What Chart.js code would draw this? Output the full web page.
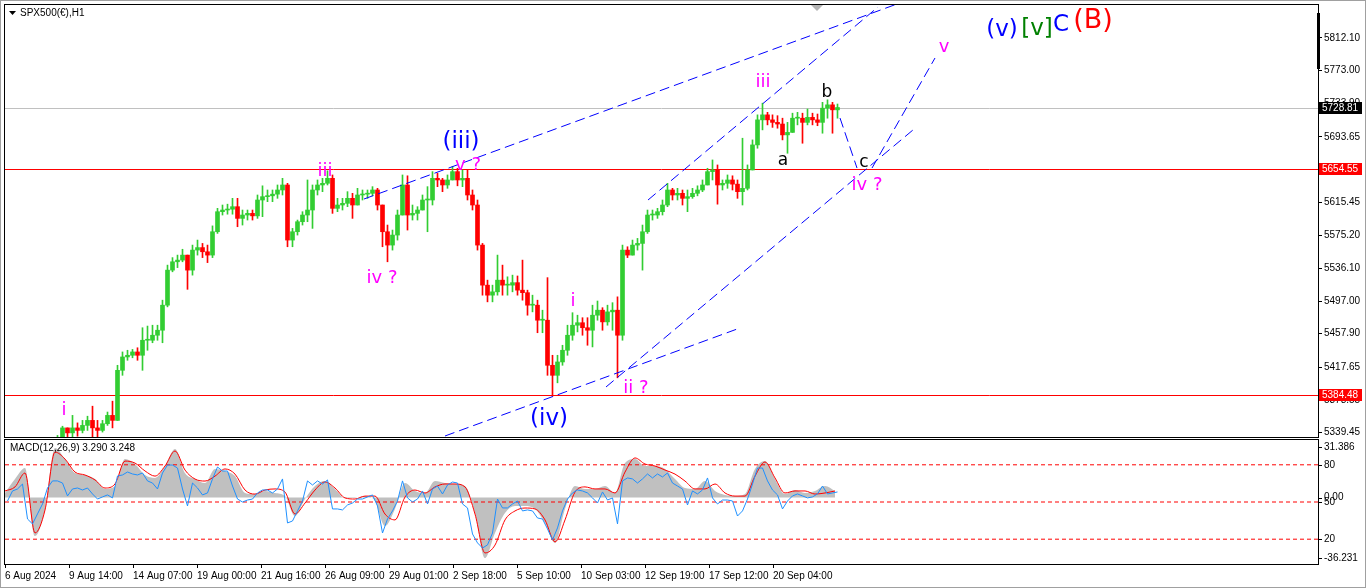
<!DOCTYPE html>
<html>
<head>
<meta charset="utf-8">
<title>SPX500 H1</title>
<script src="https://cdn.jsdelivr.net/npm/chart.js@4.4.1/dist/chart.umd.min.js"></script>
<style>
  html, body { margin: 0; padding: 0; background: #fff; }
  #wrap { position: relative; width: 1366px; height: 588px; overflow: hidden; }
  #wrap canvas { position: absolute; left: 0; }
  #price { top: 0; }
  #macd { top: 438px; }
  #frame { position: absolute; left: 0; top: 0; width: 1366px; height: 588px; box-sizing: border-box; border: 1px solid #a0a0a0; pointer-events: none; }
</style>
</head>
<body>
<div id="wrap">
  <canvas id="price" width="1366" height="438"></canvas>
  <canvas id="macd" width="1366" height="150"></canvas>
  <div id="frame"></div>
</div>
<script>
// one candle here = 5 hourly bars of the original
const barsPerCandle = 5;

// closes / highs / lows (null = below the visible range)
const candleClose = [
  null, null, null, null, null, null, null, null, null, null,
  5330, 5345, 5339, 5345, 5342, 5348, 5354, 5345, 5342, 5350,
  5360, 5354, 5414, 5430, 5432, 5436, 5432, 5450, 5450, 5456,
  5462, 5492, 5534, 5544, 5546, 5552, 5534, 5558, 5561, 5556,
  5552, 5580, 5604, 5606, 5607, 5610, 5596, 5600, 5602, 5599,
  5618, 5622, 5623, 5625, 5630, 5636, 5570, 5580, 5592, 5600,
  5606, 5630, 5636, 5638, 5644, 5608, 5612, 5614, 5620, 5612,
  5624, 5625, 5626, 5630, 5612, 5580, 5564, 5576, 5600, 5636,
  5600, 5602, 5606, 5618, 5618, 5644, 5642, 5636, 5642, 5652,
  5642, 5644, 5624, 5612, 5564, 5516, 5504, 5508, 5522, 5516,
  5516, 5519, 5510, 5507, 5492, 5492, 5474, 5474, 5420, 5408,
  5424, 5438, 5456, 5468, 5471, 5465, 5462, 5480, 5486, 5472,
  5484, 5486, 5456, 5558, 5552, 5564, 5566, 5580, 5600, 5600,
  5604, 5612, 5630, 5624, 5626, 5620, 5622, 5626, 5630, 5636,
  5652, 5654, 5636, 5638, 5642, 5637, 5628, 5632, 5654, 5684,
  5714, 5720, 5714, 5711, 5709, 5696, 5699, 5716, 5716, 5711,
  5717, 5714, 5711, 5728, 5732, 5726, 5728.81
];
const candleHigh = [
  null, null, null, null, null, null, null, null, null, null,
  5336, 5347, 5344, 5360, 5351, 5354, 5359, 5371, 5354, 5354,
  5364, 5377, 5420, 5436, 5438, 5439, 5441, 5465, 5467, 5468,
  5468, 5498, 5540, 5549, 5552, 5559, 5552, 5564, 5570, 5566,
  5564, 5587, 5608, 5612, 5613, 5620, 5620, 5606, 5606, 5606,
  5624, 5635, 5630, 5630, 5636, 5644, 5638, 5584, 5594, 5604,
  5642, 5636, 5642, 5644, 5653, 5648, 5620, 5620, 5628, 5626,
  5632, 5630, 5630, 5634, 5632, 5612, 5588, 5582, 5606, 5648,
  5647, 5612, 5610, 5624, 5634, 5652, 5650, 5644, 5648, 5658,
  5656, 5654, 5654, 5630, 5618, 5566, 5522, 5516, 5552, 5540,
  5526, 5528, 5527, 5546, 5510, 5504, 5498, 5486, 5525, 5432,
  5432, 5444, 5468, 5483, 5480, 5477, 5477, 5492, 5497, 5489,
  5492, 5495, 5502, 5564, 5562, 5570, 5572, 5588, 5606, 5606,
  5608, 5618, 5638, 5632, 5632, 5630, 5630, 5632, 5635, 5642,
  5656, 5666, 5660, 5642, 5648, 5647, 5642, 5692, 5660, 5690,
  5720, 5734, 5723, 5720, 5719, 5716, 5711, 5722, 5723, 5722,
  5727, 5722, 5721, 5735, 5738, 5735, 5733
];
const candleLow = [
  null, null, null, null, null, null, null, null, null, null,
  5322, 5330, 5333, 5334, 5335, 5339, 5342, 5334, 5334, 5340,
  5348, 5345, 5354, 5408, 5426, 5429, 5426, 5414, 5438, 5447,
  5450, 5447, 5490, 5532, 5537, 5544, 5511, 5528, 5552, 5549,
  5543, 5549, 5578, 5600, 5601, 5601, 5586, 5588, 5594, 5594,
  5596, 5598, 5616, 5616, 5620, 5624, 5562, 5562, 5576, 5588,
  5592, 5584, 5624, 5628, 5636, 5602, 5604, 5606, 5610, 5596,
  5612, 5618, 5620, 5623, 5606, 5562, 5544, 5558, 5570, 5600,
  5582, 5594, 5594, 5606, 5580, 5612, 5634, 5628, 5632, 5642,
  5635, 5634, 5618, 5606, 5558, 5504, 5496, 5496, 5504, 5504,
  5504, 5508, 5504, 5498, 5480, 5484, 5459, 5459, 5408, 5383,
  5399, 5420, 5432, 5450, 5460, 5456, 5444, 5442, 5474, 5462,
  5468, 5462, 5405, 5450, 5549, 5556, 5558, 5534, 5578, 5594,
  5596, 5600, 5610, 5618, 5618, 5612, 5604, 5620, 5623, 5628,
  5636, 5642, 5613, 5630, 5632, 5630, 5620, 5612, 5630, 5654,
  5680, 5702, 5708, 5705, 5704, 5690, 5674, 5699, 5708, 5686,
  5708, 5708, 5707, 5698, 5716, 5698, 5716
];

// time axis: one label every 64 hourly bars
const timeLabels = ['6 Aug 2024', '9 Aug 14:00', '14 Aug 07:00', '19 Aug 00:00', '21 Aug 16:00',
  '26 Aug 09:00', '29 Aug 01:00', '2 Sep 18:00', '5 Sep 10:00', '10 Sep 03:00',
  '12 Sep 19:00', '17 Sep 12:00', '20 Sep 04:00'];
const labelEvery = 64;
const totalBars = 1313;

// price axis
const priceTicks = [5812.10, 5773.00, 5733.90, 5693.65, 5654.55, 5615.45, 5575.20,
  5536.10, 5497.00, 5457.90, 5417.65, 5378.55, 5339.45];
const priceMin = 5334.1;
const priceMax = 5851.6;
const bidPrice = 5728.81;
const levelPrices = [5654.55, 5384.48];

// MACD panel, sampled every 10 bars
const macdStep = 10;
const macdHist = [
  2.5, 10.1, 16.1, -21.0, -6.2, 27.0, 21.0, 13.4, 12.3, 10.1,
  4.7, 6.3, 21.0, 18.3, 12.3, 10.7, 17.2, 26.5, 13.4, 10.1,
  7.9, 15.6, 14.5, 11.7, 2.5, 1.9, 3.6, 2.5, 0.8, -10.1,
  -0.8, 6.3, 9.0, 4.7, -0.2, -0.2, 0.8, -1.9, -15.5, -6.2,
  7.9, 3.6, 2.5, 9.0, 7.9, 7.4, 6.3, -8.4, -33.0, -19.3,
  -8.4, -4.6, -4.6, -6.2, -13.9, -24.8, -6.2, 6.3, 4.7, 4.7,
  6.3, 2.5, 18.8, 21.0, 17.2, 17.2, 15.6, 10.1, 5.2, 4.7,
  9.0, 3.6, 1.4, 0.8, 1.9, 15.6, 19.9, 10.1, 1.9, 4.1,
  2.5, 3.6, 6.3, 3.6
];
const macdSignal = [
  3.6, 5.8, 13.4, -19.3, -6.8, 24.8, 21.0, 13.9, 12.3, 9.6,
  5.2, 7.4, 19.9, 18.8, 14.5, 11.7, 17.2, 25.4, 15.0, 10.1,
  9.0, 11.7, 15.6, 12.8, 4.1, 1.9, 4.1, 4.7, 3.0, -9.0,
  -3.0, 4.1, 8.5, 5.2, -0.2, -0.8, 0.8, 0.8, -9.0, -12.2,
  0.3, 4.1, 2.5, 5.8, 7.4, 7.4, 5.8, -9.0, -30.2, -25.9,
  -12.2, -7.3, -5.7, -6.2, -12.2, -24.2, -12.2, 3.0, 5.8, 4.7,
  4.7, 2.5, 13.9, 21.6, 18.3, 17.2, 15.0, 12.8, 9.0, 4.7,
  4.7, 7.4, 2.5, 0.8, 0.8, 11.7, 19.4, 10.7, 2.5, 3.6,
  3.6, 1.9, 2.5, 3.6
];
const macdMin = -36.231;
const macdMax = 31.386;
const macdTitle = 'MACD(12,26,9) 3.290 3.248';

// the blue oscillator (0..100), one value per candle
const oscLine = [
  50.8, 58.9, 60.5, 64.5, 36.3, 32.3, 40.4, 48.4, 61.3, 67.0,
  67.0, 65.3, 54.9, 60.5, 61.3, 59.7, 61.3, 56.5, 52.4, 54.1,
  55.7, 53.3, 71.0, 71.8, 74.2, 72.6, 71.8, 73.4, 67.0, 65.3,
  60.5, 73.4, 79.8, 79.8, 77.4, 60.5, 46.8, 65.3, 61.3, 55.7,
  57.3, 68.6, 78.2, 75.0, 75.0, 62.9, 52.4, 50.0, 51.6, 52.4,
  57.3, 59.7, 59.7, 57.3, 60.5, 68.6, 33.1, 34.7, 42.8, 50.8,
  67.0, 63.7, 67.0, 64.5, 67.8, 44.4, 44.4, 43.6, 47.6, 49.2,
  52.4, 52.4, 54.1, 55.7, 46.8, 25.0, 36.3, 42.8, 50.8, 67.0,
  53.3, 50.0, 52.4, 58.9, 48.4, 60.5, 62.9, 56.5, 63.7, 66.1,
  65.3, 48.4, 45.2, 24.2, 17.0, 12.9, 15.4, 25.0, 52.4, 45.2,
  45.2, 48.4, 50.8, 42.8, 43.6, 42.8, 37.1, 36.3, 28.3, 19.4,
  29.1, 42.8, 52.4, 57.3, 59.7, 58.9, 57.3, 53.3, 49.2, 58.1,
  51.6, 53.3, 32.3, 67.0, 69.4, 68.6, 65.3, 68.6, 72.6, 69.4,
  72.6, 70.2, 73.4, 65.3, 62.9, 60.5, 47.6, 58.9, 56.5, 59.7,
  69.4, 53.3, 48.4, 51.6, 51.6, 50.8, 38.7, 42.8, 52.4, 64.5,
  77.4, 77.4, 67.0, 59.7, 55.7, 44.4, 50.8, 54.9, 56.5, 54.9,
  53.3, 54.1, 56.5, 62.9, 56.5, 57.3, 58.1
];
const oscLevels = [80, 50, 20];

// drawn objects: trend lines as [bar, price, bar, price]
const trendLines = [
  [359, 5619.2, 892, 5852.8],
  [440, 5335.3, 735, 5464.7],
  [643, 5618.0, 873, 5849.2],
  [601, 5394.0, 908, 5701.9],
  [835, 5716.2, 852, 5656.3],
  [867, 5656.3, 930, 5788.1]
];

// wave labels (bar, price)
const waveLabels = [
  { text: 'i', bar: 59, price: 5360.4, color: '#ff00ff', size: 18 },
  { text: 'iii', bar: 320, price: 5646.8, color: '#ff00ff', size: 18 },
  { text: 'iv ?', bar: 377, price: 5518.6, color: '#ff00ff', size: 18 },
  { text: '(iii)', bar: 456, price: 5680.3, color: '#0000ff', size: 23 },
  { text: 'v ?', bar: 463, price: 5653.9, color: '#ff00ff', size: 18 },
  { text: 'i', bar: 568, price: 5491.0, color: '#ff00ff', size: 18 },
  { text: '(iv)', bar: 544, price: 5348.4, color: '#0000ff', size: 23 },
  { text: 'ii ?', bar: 631, price: 5386.8, color: '#ff00ff', size: 18 },
  { text: 'iii', bar: 758, price: 5753.4, color: '#ff00ff', size: 18 },
  { text: 'a', bar: 778, price: 5659.9, color: '#000000', size: 17 },
  { text: 'b', bar: 822, price: 5741.4, color: '#000000', size: 17 },
  { text: 'c', bar: 859, price: 5657.5, color: '#000000', size: 17 },
  { text: 'iv ?', bar: 862, price: 5630.0, color: '#ff00ff', size: 18 },
  { text: 'v', bar: 939, price: 5795.3, color: '#ff00ff', size: 18 },
  { text: '(v)', bar: 997, price: 5814.5, color: '#0000ff', size: 23 },
  { text: '[v]', bar: 1032, price: 5815.7, color: '#008000', size: 23 },
  { text: 'C', bar: 1056, price: 5820.5, color: '#0000ff', size: 23 },
  { text: '(B)', bar: 1088, price: 5824.1, color: '#ff0000', size: 27 }
];

const BULL = '#32cd32';
const BEAR = '#ff0000';
const AXIS_FONT = '10px "Liberation Sans", Arial, sans-serif';
const LABEL_FONT = '"DejaVu Sans", Verdana, sans-serif';

Chart.defaults.font.family = '"Liberation Sans", Arial, sans-serif';
Chart.defaults.font.size = 10;
Chart.defaults.color = '#000';

document.addEventListener('DOMContentLoaded', function () {
    const candles = buildCandles();
    createPriceChart(candles);
    createMacdChart();
});

// open = previous close, x = middle of the 5 bars
function buildCandles() {
    const out = [];
    candleClose.forEach((c, i) => {
        if (c === null) return;
        const prev = i > 0 ? candleClose[i - 1] : null;
        const o = prev === null ? candleLow[i] : prev;
        out.push({ x: i * barsPerCandle + barsPerCandle / 2, o: o, h: candleHigh[i], l: candleLow[i], c: c });
    });
    return out;
}

function hline(ctx, a, py, color) {
    ctx.strokeStyle = color;
    ctx.beginPath();
    ctx.moveTo(a.left, py);
    ctx.lineTo(a.right, py);
    ctx.stroke();
}

const priceOverlay = {
    id: 'priceOverlay',
    beforeDatasetsDraw(chart) {
        const { ctx, chartArea: a, scales: { y } } = chart;
        ctx.save();
        ctx.lineWidth = 1;
        hline(ctx, a, Math.round(y.getPixelForValue(bidPrice)) + 0.5, '#c0c0c0');
        levelPrices.forEach(p => hline(ctx, a, Math.round(y.getPixelForValue(p)) + 0.5, '#ff0000'));
        ctx.restore();
    },
    afterDatasetsDraw(chart) {
        const { ctx, chartArea: a, scales: { x, y } } = chart;
        ctx.save();
        ctx.beginPath();
        ctx.rect(a.left, a.top, a.right - a.left, a.bottom - a.top);
        ctx.clip();
        // dashed trend lines
        ctx.strokeStyle = '#0000ff';
        ctx.lineWidth = 1;
        ctx.setLineDash([10, 5]);
        trendLines.forEach(t => {
            ctx.beginPath();
            ctx.moveTo(x.getPixelForValue(t[0]), y.getPixelForValue(t[1]));
            ctx.lineTo(x.getPixelForValue(t[2]), y.getPixelForValue(t[3]));
            ctx.stroke();
        });
        ctx.setLineDash([]);
        // wave counts
        ctx.textAlign = 'center';
        ctx.textBaseline = 'alphabetic';
        waveLabels.forEach(w => {
            ctx.font = w.size + 'px ' + LABEL_FONT;
            ctx.fillStyle = w.color;
            ctx.fillText(w.text, x.getPixelForValue(w.bar), y.getPixelForValue(w.price));
        });
        ctx.restore();
    },
    afterDraw(chart) {
        const { ctx, chartArea: a, scales: { x, y } } = chart;
        ctx.save();
        ctx.strokeStyle = '#000';
        ctx.lineWidth = 1;
        ctx.strokeRect(a.left - 0.5, a.top - 0.5, a.right - a.left + 1, a.bottom - a.top + 1);

        // fixed-scale bar on the axis
        ctx.fillStyle = '#000';
        ctx.fillRect(a.right - 1, 13, 3, 56);

        // chart-shift marker
        const sx = x.getPixelForValue(812);
        ctx.fillStyle = '#b4b4b4';
        ctx.beginPath();
        ctx.moveTo(sx - 6, a.top);
        ctx.lineTo(sx + 6, a.top);
        ctx.lineTo(sx, a.top + 6);
        ctx.closePath();
        ctx.fill();

        // header
        ctx.fillStyle = '#000';
        ctx.beginPath();
        ctx.moveTo(9, 11);
        ctx.lineTo(16, 11);
        ctx.lineTo(12.5, 15);
        ctx.closePath();
        ctx.fill();
        ctx.font = AXIS_FONT;
        ctx.textAlign = 'left';
        ctx.textBaseline = 'middle';
        ctx.fillText('SPX500(\u20ac),H1', 20, 13);

        // price tags on the axis
        const tags = [
            { price: bidPrice, bg: '#000000' },
            { price: levelPrices[0], bg: '#ff0000' },
            { price: levelPrices[1], bg: '#ff0000' }
        ];
        tags.forEach(t => {
            const py = Math.round(y.getPixelForValue(t.price));
            ctx.fillStyle = t.bg;
            ctx.fillRect(a.right + 1, py - 6, 43, 12);
            ctx.fillStyle = '#fff';
            ctx.fillText(t.price.toFixed(2), a.right + 4, py + 0.5);
        });
        ctx.restore();
    }
};

function createPriceChart(candles) {
    const ctx = document.getElementById('price').getContext('2d');
    const colors = candles.map(d => (d.c >= d.o ? BULL : BEAR));
    window.priceChart = new Chart(ctx, {
        type: 'bar',
        data: {
            datasets: [
                {
                    label: 'bodies',
                    data: candles.map(d => ({ x: d.x, y: [d.o, d.c] })),
                    backgroundColor: colors,
                    borderWidth: 0,
                    barThickness: 4,
                    minBarLength: 1,
                    grouped: false,
                    order: 1
                },
                {
                    label: 'wicks',
                    data: candles.map(d => ({ x: d.x, y: [Math.min(d.l, d.o, d.c), Math.max(d.h, d.o, d.c)] })),
                    backgroundColor: colors,
                    borderWidth: 0,
                    barThickness: 1,
                    grouped: false,
                    order: 2
                }
            ]
        },
        options: {
            responsive: false,
            animation: false,
            events: [],
            layout: { padding: { left: 5, top: 5, right: 0, bottom: 1 } },
            plugins: { legend: { display: false }, tooltip: { enabled: false } },
            scales: {
                x: { type: 'linear', display: false, min: 0, max: totalBars, offset: false },
                y: {
                    position: 'right',
                    min: priceMin,
                    max: priceMax,
                    beginAtZero: false,
                    afterBuildTicks: s => { s.ticks = priceTicks.map(v => ({ value: v })); },
                    afterFit: s => { s.width = 48; s.paddingTop = 0; s.paddingBottom = 0; },
                    ticks: { callback: v => Number(v).toFixed(2), padding: 2, color: '#000' },
                    grid: { drawOnChartArea: false, drawTicks: true, tickLength: 4, color: '#000' },
                    border: { display: false }
                }
            }
        },
        plugins: [priceOverlay]
    });
}

const macdOverlay = {
    id: 'macdOverlay',
    afterDraw(chart) {
        const { ctx, chartArea: a, scales: { y, osc } } = chart;
        ctx.save();
        ctx.strokeStyle = '#000';
        ctx.lineWidth = 1;
        ctx.strokeRect(a.left - 0.5, a.top - 0.5, a.right - a.left + 1, a.bottom - a.top + 1);

        ctx.font = AXIS_FONT;
        ctx.fillStyle = '#000';
        ctx.textAlign = 'left';
        ctx.textBaseline = 'middle';
        ctx.fillText(macdTitle, a.left + 5, a.top + 8);

        const marks = [];
        oscLevels.forEach(l => marks.push([String(l), osc.getPixelForValue(l)]));
        marks.push([macdMax.toFixed(3), a.top + 7]);
        marks.push(['0.00', y.getPixelForValue(0)]);
        marks.push([macdMin.toFixed(3), a.bottom - 6]);
        marks.forEach(m => {
            const py = Math.round(m[1]) + 0.5;
            ctx.beginPath();
            ctx.moveTo(a.right, py);
            ctx.lineTo(a.right + 4, py);
            ctx.stroke();
            ctx.fillText(m[0], a.right + 6, m[1]);
        });
        ctx.restore();
    }
};

function createMacdChart() {
    const ctx = document.getElementById('macd').getContext('2d');
    const levelSets = oscLevels.map(l => ({
        label: 'level ' + l,
        data: [{ x: 0, y: l }, { x: totalBars, y: l }],
        yAxisID: 'osc',
        borderColor: '#ff0000',
        borderWidth: 1,
        borderDash: [4, 3],
        pointRadius: 0,
        fill: false,
        order: 2
    }));
    window.macdChart = new Chart(ctx, {
        type: 'line',
        data: {
            datasets: [
                {
                    label: 'MACD',
                    data: macdHist.map((v, i) => ({ x: i * macdStep, y: v })),
                    yAxisID: 'y',
                    fill: 'origin',
                    backgroundColor: '#c0c0c0',
                    borderWidth: 0,
                    pointRadius: 0,
                    cubicInterpolationMode: 'monotone',
                    order: 4
                },
                {
                    label: 'Signal',
                    data: macdSignal.map((v, i) => ({ x: i * macdStep, y: v })),
                    yAxisID: 'y',
                    borderColor: '#ff0000',
                    borderWidth: 1,
                    pointRadius: 0,
                    fill: false,
                    cubicInterpolationMode: 'monotone',
                    order: 3
                },
                ...levelSets,
                {
                    label: 'osc',
                    data: oscLine.map((v, i) => ({ x: i * barsPerCandle + barsPerCandle / 2, y: v })),
                    yAxisID: 'osc',
                    borderColor: '#1e90ff',
                    borderWidth: 1,
                    pointRadius: 0,
                    fill: false,
                    order: 1
                }
            ]
        },
        options: {
            responsive: false,
            animation: false,
            events: [],
            layout: { padding: { left: 5, top: 2, right: 0, bottom: 0 } },
            plugins: { legend: { display: false }, tooltip: { enabled: false } },
            scales: {
                x: {
                    type: 'linear',
                    min: 0,
                    max: totalBars,
                    offset: false,
                    afterBuildTicks: s => { s.ticks = timeLabels.map((t, i) => ({ value: i * labelEvery })); },
                    afterFit: s => { s.height = 24; s.paddingLeft = 0; s.paddingRight = 0; },
                    ticks: {
                        callback: (v, i) => timeLabels[i],
                        align: 'start',
                        maxRotation: 0,
                        autoSkip: false,
                        padding: 2,
                        color: '#000'
                    },
                    grid: { drawOnChartArea: false, drawTicks: true, tickLength: 4, color: '#000' },
                    border: { display: false }
                },
                y: {
                    position: 'right',
                    min: macdMin,
                    max: macdMax,
                    ticks: { display: false },
                    grid: { display: false },
                    border: { display: false },
                    afterFit: s => { s.width = 48; s.paddingTop = 0; s.paddingBottom = 0; }
                },
                osc: { position: 'right', display: false, min: 0, max: 100 }
            }
        },
        plugins: [macdOverlay]
    });
}
</script>
</body>
</html>
